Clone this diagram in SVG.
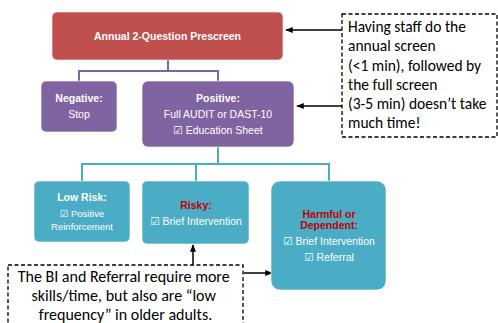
<svg xmlns="http://www.w3.org/2000/svg" width="498" height="323" viewBox="0 0 498 323">
<defs>
<style>
.box{stroke:#ffffff;stroke-opacity:0.6;stroke-width:1}
.red{fill:#C0504D}
.pur{fill:#8064A2}
.teal{fill:#4BACC6}
.t{font-family:"Liberation Sans",Arial,"DejaVu Sans",sans-serif;font-size:10.5px;fill:#ffffff;text-anchor:middle}
.b{font-weight:bold}
.rt{fill:#C00000}
.pl{fill:none;stroke:#8064A2;stroke-width:2}
.tl{fill:none;stroke:#4BACC6;stroke-width:2}
.call{fill:#ffffff;stroke:#000000;stroke-width:1.3;stroke-dasharray:4,2.5}
.ct{font-family:Carlito,"Liberation Sans",Calibri,sans-serif;fill:#000000}
.arr{fill:none;stroke:#000000;stroke-width:1.5;marker-end:url(#ah)}
</style>
<marker id="ah" viewBox="0 0 10 10" refX="9" refY="5" markerWidth="5" markerHeight="5" orient="auto" markerUnits="strokeWidth">
<path d="M0,1 L10,5 L0,9 z" fill="#000000"/>
</marker>
</defs>
<rect width="498" height="323" fill="#ffffff"/>
<g id="connectors">
<path class="pl" d="M168,60 V71 M79,71 H218 M79,70 V81 M218,70 V81"/>
<path class="tl" d="M218,147 V164 M82,164 H329 M82,163 V181 M196,163 V181 M329,163 V181"/>
<path class="arr" d="M342,30 H286"/>
<path class="arr" d="M342,106 H297"/>
<path class="arr" d="M193,265 V245"/>
<path class="arr" d="M244,273 H272"/>
</g>
<g id="prescreen">
<rect class="box red" x="52" y="12" width="231" height="48" rx="5"/>
<text class="t b" x="167.5" y="39.5">Annual 2-Question Prescreen</text>
</g>
<g id="negative">
<rect class="box pur" x="41" y="81" width="76" height="51" rx="5"/>
<text class="t b" x="79" y="101.5">Negative:</text>
<text class="t" x="79" y="117.5">Stop</text>
</g>
<g id="positive">
<rect class="box pur" x="142" y="81" width="152" height="66" rx="6"/>
<text class="t b" x="218" y="101.5">Positive:</text>
<text class="t" x="218" y="117.5">Full AUDIT or DAST-10</text>
<text class="t" x="218" y="133.5">☑ Education Sheet</text>
</g>
<g id="lowrisk">
<rect class="box teal" x="34" y="181" width="96" height="61" rx="5"/>
<text class="t b" x="82" y="200.5">Low Risk:</text>
<text class="t" x="82" y="217" style="font-size:9.5px">☑ Positive</text>
<text class="t" x="82" y="230" style="font-size:9.5px">Reinforcement</text>
</g>
<g id="risky">
<rect class="box teal" x="142" y="181" width="107" height="63" rx="5"/>
<text class="t b rt" x="196" y="208.5">Risky:</text>
<text class="t" x="196" y="224.5">☑ Brief Intervention</text>
</g>
<g id="harmful">
<rect class="box teal" x="271" y="181" width="115" height="109" rx="9"/>
<text class="t b rt" x="329" y="217.5">Harmful or</text>
<text class="t b rt" x="329" y="228.5">Dependent:</text>
<text class="t" x="329" y="244.5">☑ Brief Intervention</text>
<text class="t" x="329" y="260.5">☑ Referral</text>
</g>
<g id="note-top">
<rect class="call" x="342" y="14" width="155" height="123"/>
<text class="ct" font-size="15.5" x="348">
<tspan x="348" y="32">Having staff do the</tspan>
<tspan x="348" y="51">annual screen</tspan>
<tspan x="348" y="71">(&lt;1 min), followed by</tspan>
<tspan x="348" y="90">the full screen</tspan>
<tspan x="348" y="109">(3-5 min) doesn’t take</tspan>
<tspan x="348" y="128">much time!</tspan>
</text>
</g>
<g id="note-bottom">
<rect class="call" x="8" y="265" width="235" height="70"/>
<text class="ct" font-size="16" text-anchor="middle">
<tspan x="125.5" y="282">The BI and Referral require more</tspan>
<tspan x="125.5" y="301">skills/time, but also are “low</tspan>
<tspan x="125.5" y="320">frequency” in older adults.</tspan>
</text>
</g>
</svg>
